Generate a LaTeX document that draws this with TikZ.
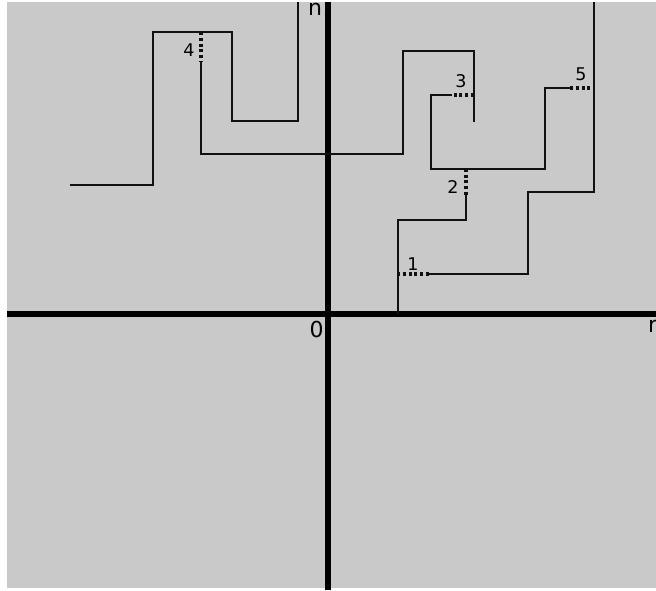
\documentclass[tikz,border=0pt]{standalone}
\usepackage{fontspec}
\setmainfont{DejaVu Sans}
\definecolor{bg}{HTML}{C9C9C9}
\definecolor{ink}{HTML}{111111}
\tikzset{
  axis/.style={line width=5.5pt, black},
  walk/.style={line width=2.3pt, ink},
  dots/.style={line width=3.2pt, ink, dash pattern=on 3pt off 2.8pt},
  numlab/.style={font=\fontsize{17.5}{17.5}\selectfont, inner sep=0pt},
  axlab/.style={font=\fontsize{22}{22}\selectfont, inner sep=0pt}
}
\begin{document}
\begin{tikzpicture}[x=1pt,y=-1pt]
\useasboundingbox (0,0) rectangle (656,590);
\fill[bg] (7,2) rectangle (656,588);
% axes
\coordinate (xl) at (7,314); \coordinate (xr) at (656,314);
\coordinate (yt) at (328,2); \coordinate (yb) at (328,590);
\draw[axis] (xl) -- (xr);
\draw[axis] (yt) -- (yb);
\node[axlab] (n) at (315,9) {n};
\node[axlab] (zero) at (316.5,329) {0};
\node[axlab, anchor=west] (r) at (648,326) {r};
% walks
\draw[walk] (70,185) -- (153,185) -- (153,32) -- (232,32) -- (232,121) -- (298,121) -- (298,2);
\draw[dots] (201,32) -- (201,62);
\draw[walk] (201,62) -- (201,154) -- (403,154) -- (403,51) -- (474,51) -- (474,122);
\draw[dots] (474,95) -- (452,95);
\draw[walk] (452,95) -- (431,95) -- (431,169) -- (545,169) -- (545,88) -- (570,88);
\draw[dots] (570,88) -- (594,88);
\draw[walk] (594,2) -- (594,192) -- (528,192) -- (528,274) -- (429,274);
\draw[dots] (429,274) -- (398,274);
\draw[walk] (398,314) -- (398,220) -- (466,220) -- (466,195);
\draw[dots] (466,195) -- (466,169);
% labels
\node[numlab] (l1) at (413,264.5) {1};
\node[numlab] (l2) at (453,187) {2};
\node[numlab] (l3) at (461,81) {3};
\node[numlab] (l4) at (189,50) {4};
\node[numlab] (l5) at (581,74) {5};
\end{tikzpicture}
\end{document}
